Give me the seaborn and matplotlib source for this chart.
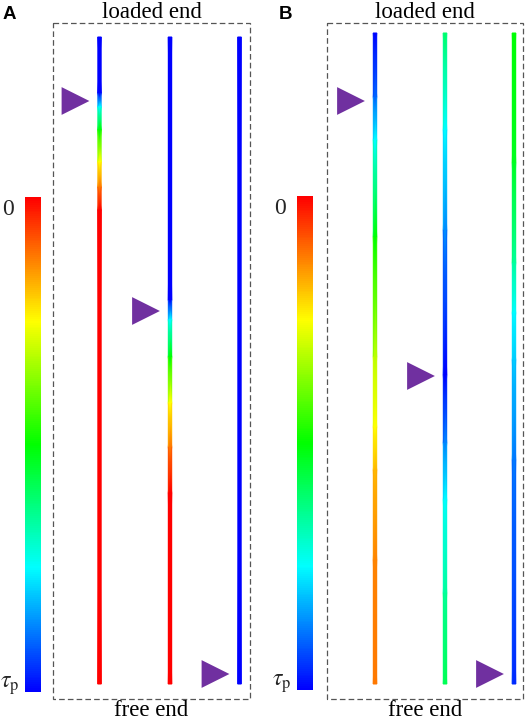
import numpy as np
import matplotlib
matplotlib.use("Agg")
import matplotlib.pyplot as plt
import seaborn as sns
from matplotlib.colors import LinearSegmentedColormap, Normalize
from matplotlib.patches import Rectangle
from matplotlib.colorbar import Colorbar

# ---------------- data ----------------
panels = ["A", "B"]
colorbar_labels = ["0", r"$\tau_{\mathrm{p}}$"]
end_labels = ["loaded end", "free end"]

# normalised shear stress along each bar: 0 -> red ("0"), 1 -> blue (tau_p)
# positions are along the bar (pixel rows, top = loaded end)
A1_pos = [37, 93, 107, 130, 162, 187, 210, 684]
A1_val = [1.0, 1.0, 0.75, 0.5, 0.25, 0.12, 0.0, 0.0]
A2_pos = [37, 300, 320, 357, 403, 447, 493, 684]
A2_val = [1.0, 1.0, 0.75, 0.5, 0.25, 0.12, 0.0, 0.0]
A3_pos = [37, 684]
A3_val = [1.0, 1.0]

B1_pos = [33, 97, 140, 237, 357, 427, 470, 560, 684]
B1_val = [1.0, 0.9, 0.75, 0.5, 0.32, 0.25, 0.18, 0.13, 0.12]
B2_pos = [33, 130, 230, 375, 443, 500, 593, 684]
B2_val = [0.6, 0.75, 0.86, 1.0, 0.87, 0.75, 0.65, 0.58]
B3_pos = [33, 163, 263, 313, 360, 460, 684]
B3_val = [0.5, 0.53, 0.65, 0.75, 0.8, 0.88, 0.96]

# debonding-front markers (triangle positions along the bar)
A_front = [101, 311, 674]
B_front = [101, 376, 674]

# ---------------- layout ----------------
W, H = 526, 723
bar_x = {"A": [99.5, 170, 239.5], "B": [375, 445, 514]}
profiles = {"A": [(A1_pos, A1_val), (A2_pos, A2_val), (A3_pos, A3_val)],
            "B": [(B1_pos, B1_val), (B2_pos, B2_val), (B3_pos, B3_val)]}
fronts = {"A": A_front, "B": B_front}
half_w = 1.7
tri_offset = 24  # distance from bar to triangle centre

sns.set_theme(style="white")
plt.rcParams["font.family"] = ["Liberation Serif", "DejaVu Serif"]
plt.rcParams["mathtext.fontset"] = "stix"

cmap = LinearSegmentedColormap.from_list(
    "stress", [(0.0, "#ff0000"), (0.25, "#ffff00"), (0.5, "#00ff00"),
               (0.75, "#00ffff"), (1.0, "#0000ff")])
norm = Normalize(0, 1)

fig = plt.figure(figsize=(W / 100, H / 100), dpi=100)
ax = fig.add_axes([0, 0, 1, 1])

rects = {"A": (53, 23, 197, 676), "B": (327, 23, 196, 676)}
cbars = {"A": (25, 197, 16, 495), "B": (297, 196, 16, 494)}

for p in panels:
    # gradient bars
    for xc, (pos, val) in zip(bar_x[p], profiles[p]):
        pos = np.asarray(pos, float)
        val = np.asarray(val, float)
        X = np.column_stack([np.full_like(pos, xc - half_w), np.full_like(pos, xc + half_w)])
        Y = np.column_stack([pos, pos])
        C = np.column_stack([val, val])
        ax.pcolormesh(X, Y, C, shading="gouraud", cmap=cmap, norm=norm)
    # triangles
    sns.scatterplot(x=[x - tri_offset for x in bar_x[p]], y=fronts[p], marker=">",
                    s=400, color="#7030A0", edgecolor="none", linewidth=0, ax=ax,
                    zorder=5)
    # dashed box
    rx, ry, rw, rh = rects[p]
    ax.add_patch(Rectangle((rx, ry), rw, rh, fill=False, edgecolor="#555555",
                           lw=0.9, ls=(0, (4.5, 2.5))))
    cx = rx + rw / 2
    ax.text(cx, 18, end_labels[0], ha="center", va="baseline", fontsize=16.5, color="black")
    ax.text(cx, 716, end_labels[1], ha="center", va="baseline", fontsize=16.5, color="black")
    # panel letter
    lx = 3 if p == "A" else 279
    ax.text(lx, 19, p, ha="left", va="baseline", fontsize=13.5, fontweight="bold",
            family=["Liberation Sans", "DejaVu Sans"], color="black")
    # colorbar
    bx, by, bw, bh = cbars[p]
    cax = fig.add_axes([bx / W, 1 - (by + bh) / H, bw / W, bh / H])
    cb = Colorbar(cax, cmap=cmap, norm=norm, orientation="vertical")
    cb.outline.set_visible(False)
    cax.invert_yaxis()
    cax.set_xticks([])
    cax.set_yticks([])
    ax.text(bx - 23, by + 18, colorbar_labels[0], ha="left", va="baseline", fontsize=17)
    ax.text(bx - 25, by + bh - 4, colorbar_labels[1], ha="left", va="baseline", fontsize=17)

ax.set_xlim(0, W)
ax.set_ylim(H, 0)
ax.axis("off")

fig.savefig("out.png", dpi=100)
